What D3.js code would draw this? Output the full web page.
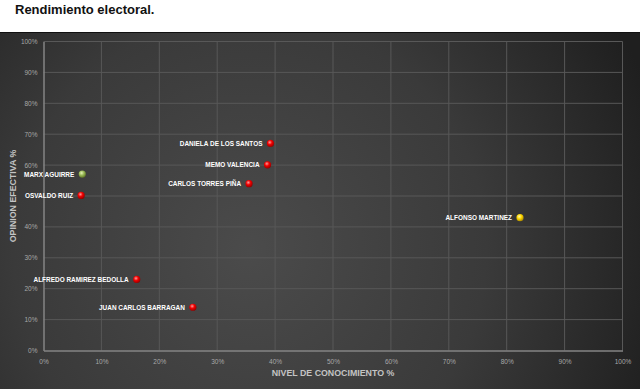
<!DOCTYPE html>
<html><head><meta charset="utf-8">
<script src="https://cdn.jsdelivr.net/npm/d3@7"></script>
<style>html,body{margin:0;padding:0;background:#fff;}svg{display:block;}</style>
</head><body>
<svg id="c" width="640" height="389"></svg>
<script>
const names = ["DANIELA DE LOS SANTOS","MEMO VALENCIA","CARLOS TORRES PIÑA","MARX AGUIRRE","OSVALDO RUIZ","ALFONSO MARTINEZ","ALFREDO RAMIREZ BEDOLLA","JUAN CARLOS BARRAGAN"];
const conocimiento = [39.2, 38.7, 35.5, 6.7, 6.5, 82.3, 16.1, 25.8];
const opinion = [67.0, 60.1, 54.0, 57.1, 50.2, 43.0, 23.0, 14.0];
const party = ["red","red","red","green","red","yellow","red","red"];
const tickValues = [0,10,20,30,40,50,60,70,80,90,100];
const xTickLabels = ["0%","10%","20%","30%","40%","50%","60%","70%","80%","90%","100%"];
// the 50% label on the vertical axis is covered by the "OSVALDO RUIZ" label in the original
const yTickLabels = ["0%","10%","20%","30%","40%","","60%","70%","80%","90%","100%"];

const svg = d3.select("#c");
const W = 640, H = 389;
const defs = svg.append("defs");
const FONT = "Liberation Sans, Arial, sans-serif";

const bg = defs.append("radialGradient").attr("id","bg")
  .attr("gradientUnits","userSpaceOnUse").attr("cx",250).attr("cy",250).attr("r",430);
bg.append("stop").attr("offset","0").attr("stop-color","#4b4b4b");
bg.append("stop").attr("offset","0.55").attr("stop-color","#3a3a3a");
bg.append("stop").attr("offset","1").attr("stop-color","#1f1f1f");

const ballColors = {
  red: ["#ff9a9a","#f00000","#8a0000"],
  green: ["#e6f2b8","#9bbb59","#5a7020"],
  yellow: ["#fff8b0","#ffd800","#a08000"]
};
Object.entries(ballColors).forEach(([k,c])=>{
  const g = defs.append("radialGradient").attr("id","ball-"+k)
    .attr("cx","0.4").attr("cy","0.35").attr("r","0.7");
  g.append("stop").attr("offset","0").attr("stop-color",c[0]);
  g.append("stop").attr("offset","0.45").attr("stop-color",c[1]);
  g.append("stop").attr("offset","1").attr("stop-color",c[2]);
});

// title
svg.append("text").attr("x",15).attr("y",14).text("Rendimiento electoral.")
  .attr("font-family",FONT).attr("font-weight","bold")
  .attr("font-size",13).attr("fill","#111");

// chart background
svg.append("rect").attr("x",0).attr("y",32).attr("width",W).attr("height",H-32).attr("fill","url(#bg)");
svg.append("line").attr("x1",0).attr("x2",W).attr("y1",32.5).attr("y2",32.5).attr("stroke","#111").attr("stroke-width",1);

const x = d3.scaleLinear().domain([0,100]).range([43.5,622.5]);
const y = d3.scaleLinear().domain([0,100]).range([350.5,41.5]);

// grid
const grid = svg.append("g");
grid.selectAll(".gx").data(tickValues.slice(1)).join("line")
  .attr("x1",d=>x(d)).attr("x2",d=>x(d)).attr("y1",y(0)).attr("y2",y(100))
  .attr("stroke","#585858").attr("stroke-width",1);
grid.selectAll(".gy").data(tickValues.slice(1)).join("line")
  .attr("x1",x(0)).attr("x2",x(100)).attr("y1",d=>y(d)).attr("y2",d=>y(d))
  .attr("stroke","#585858").attr("stroke-width",1);

// axes
const xAxis = svg.append("g").attr("transform",`translate(0,${y(0)})`)
  .call(d3.axisBottom(x).tickValues(tickValues).tickFormat((d,i)=>xTickLabels[i]).tickSize(0).tickPadding(9));
const yAxis = svg.append("g").attr("transform",`translate(${x(0)},0)`)
  .call(d3.axisLeft(y).tickValues(tickValues).tickFormat((d,i)=>yTickLabels[i]).tickSize(0).tickPadding(6));
[xAxis,yAxis].forEach(a=>{
  a.select(".domain").attr("stroke","#858585").attr("stroke-width",1.5);
  a.selectAll("text").attr("fill","#a8a8a8").attr("font-size",6.5).attr("font-family",FONT);
});

// axis titles
svg.append("text").attr("transform",`translate(${(x(0)+x(100))/2},376) scale(0.93,1)`)
  .attr("text-anchor","middle")
  .text("NIVEL DE CONOCIMIENTO %").attr("fill","#c4c4c4").attr("font-weight","bold")
  .attr("font-size",9.5).attr("font-family",FONT);
svg.append("text").attr("transform",`translate(15.5,${(y(0)+y(100))/2}) rotate(-90) scale(0.93,1)`)
  .attr("text-anchor","middle")
  .text("OPINION EFECTIVA %").attr("fill","#c4c4c4").attr("font-weight","bold")
  .attr("font-size",9.5).attr("font-family",FONT);

// points
const data = names.map((n,i)=>({n, cx:conocimiento[i], cy:opinion[i], p:party[i]}));
const pts = svg.append("g");
pts.selectAll("circle").data(data).join("circle")
  .attr("cx",d=>x(d.cx)).attr("cy",d=>y(d.cy)).attr("r",3.6)
  .attr("fill",d=>"url(#ball-"+d.p+")");
pts.selectAll("text").data(data).join("text")
  .attr("transform",d=>`translate(${x(d.cx)-8},${y(d.cy)}) scale(0.86,1)`)
  .attr("dy","0.35em")
  .attr("text-anchor","end").text(d=>d.n)
  .attr("fill","#ffffff").attr("font-weight","bold").attr("font-size",7.5)
  .attr("font-family",FONT);
</script>
</body></html>
